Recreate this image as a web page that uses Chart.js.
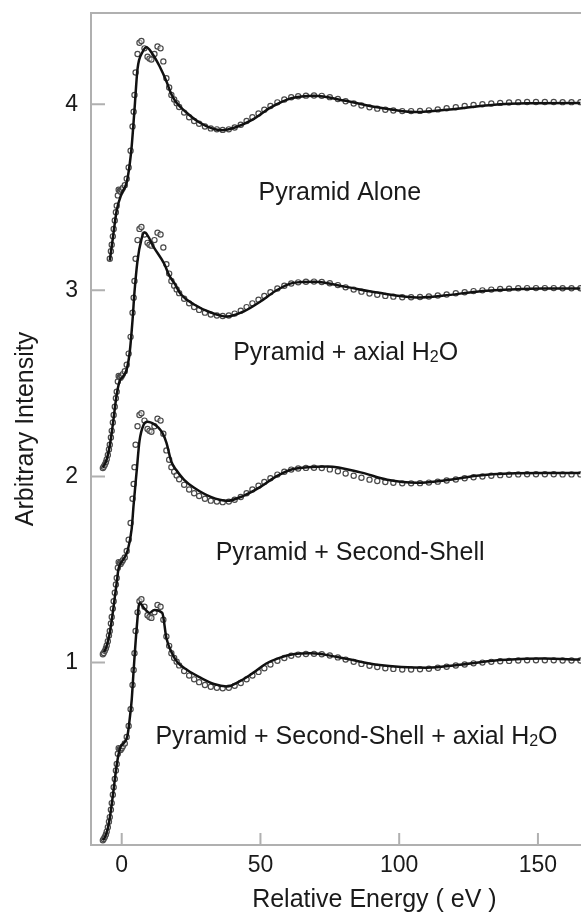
<!DOCTYPE html>
<html>
<head>
<meta charset="utf-8">
<script src="https://cdn.jsdelivr.net/npm/chart.js@4.4.0/dist/chart.umd.min.js"></script>
<style>
  html, body { margin: 0; padding: 0; background: #fff; overflow: hidden; }
  #wrap { width: 581px; height: 921px; overflow: hidden; position: relative; }
  canvas { display: block; }
</style>
</head>
<body>
<div id="wrap"><canvas id="chart-xas" width="663" height="921"></canvas></div>
<script>
// measured spectrum (normalized), same data under every fit
const energy = [-6.8, -6.5, -6.1, -5.7, -5.4, -5.0, -4.6, -4.3, -3.9, -3.6, -3.2, -2.9, -2.5, -2.1, -1.8,
  -1.4, -1.1, -0.7, -0.4, 0.0, 0.4, 1.1, 1.8, 2.5, 3.2,
  3.9, 4.3, 4.6, 5.0, 5.7, 6.4, 7.1, 8.2, 9.3, 10.0,
  10.7, 11.8, 12.9, 14.0, 15.0, 16.1, 17.1, 17.9, 18.9, 19.8,
  20.7, 22.5, 24.3, 26.1, 27.9, 30.0, 32.1, 34.3, 36.4, 38.6,
  40.7, 42.9, 45.0, 47.1, 49.3, 51.4, 53.6, 56.1, 58.6, 61.1,
  63.6, 66.4, 69.3, 72.1, 75.0, 77.9, 80.7, 83.6, 86.4, 89.3,
  92.1, 95.0, 97.9, 101.1, 104.3, 107.5, 110.7, 113.9, 117.1, 120.4,
  123.6, 126.8, 130.0, 133.2, 136.4, 139.6, 142.9, 146.1, 149.3, 152.5,
  155.7, 158.9, 162.1, 165.3];
const measured = [0.045, 0.052, 0.063, 0.077, 0.092, 0.115, 0.145, 0.17, 0.21, 0.245, 0.29, 0.33, 0.375, 0.42, 0.455,
  0.51, 0.54, 0.535, 0.53, 0.54, 0.55, 0.565, 0.60, 0.66, 0.75,
  0.88, 0.96, 1.05, 1.17, 1.27, 1.33, 1.34, 1.30, 1.255, 1.245,
  1.24, 1.27, 1.31, 1.30, 1.23, 1.14, 1.09, 1.05, 1.025, 1.005,
  0.985, 0.955, 0.93, 0.91, 0.895, 0.88, 0.87, 0.865, 0.862, 0.865,
  0.875, 0.89, 0.91, 0.93, 0.95, 0.97, 0.99, 1.01, 1.025, 1.037,
  1.043, 1.046, 1.047, 1.045, 1.038, 1.028, 1.016, 1.004, 0.993, 0.983,
  0.976, 0.97, 0.966, 0.963, 0.963, 0.964, 0.967, 0.972, 0.978, 0.984,
  0.99, 0.996, 1.0, 1.004, 1.007, 1.009, 1.011, 1.012, 1.012, 1.012,
  1.012, 1.011, 1.011, 1.011];

// model fits
const fitAloneE = [-4.3, -3.2, -1.8, 0.0, 1.8, 2.9, 3.6, 4.6, 5.7, 7.5, 8.9, 11.1, 13.6, 16.1, 17.9, 19.6, 23.2,
  27.9, 32.5, 36.1, 41.1, 46.8, 53.9, 61.1, 69.3, 80.7, 92.1, 106.1, 118.2, 132.5, 146.1, 165.3];
const fitAloneY = [0.16, 0.28, 0.43, 0.52, 0.58, 0.68, 0.775, 0.97, 1.19, 1.28, 1.306, 1.27, 1.205, 1.123, 1.053, 1.01, 0.957,
  0.903, 0.87, 0.86, 0.876, 0.914, 0.984, 1.032, 1.046, 1.018, 0.984, 0.958, 0.972, 0.995, 1.005, 1.006];

const fitAxialE = [-6.8, -5.4, -4.3, -3.2, -1.8, -0.7, 0.4, 1.8, 2.9, 3.9, 4.6, 5.7, 7.1, 8.2, 11.8, 15.4, 17.1, 18.9,
  21.4, 26.1, 32.1, 37.9, 43.9, 50.0, 55.7, 61.8, 69.6, 80.4, 92.1, 106.4, 116.1, 127.9, 139.6, 151.8, 165.3];
const fitAxialY = [0.047, 0.092, 0.165, 0.28, 0.44, 0.515, 0.535, 0.575, 0.67, 0.84, 0.99, 1.16, 1.274, 1.311, 1.225, 1.14, 1.08, 1.04,
  0.978, 0.924, 0.881, 0.859, 0.886, 0.94, 0.999, 1.04, 1.046, 1.020, 0.988, 0.962, 0.972, 0.993, 1.004, 1.010, 1.010];

const fitShellE = [-6.4, -5.4, -4.3, -3.2, -2.5, -1.8, -1.2, -0.7, 0.4, 2.1, 3.6, 4.3, 5.4, 6.4, 7.9, 9.3, 11.8, 12.9, 14.6,
  16.1, 17.9, 19.6, 22.5, 26.1, 32.1, 37.9, 43.9, 50.0, 55.7, 61.8, 74.3, 86.1, 95.7, 106.4, 118.2, 127.9, 139.6, 151.8, 165.3];
const fitShellY = [0.055, 0.09, 0.16, 0.27, 0.35, 0.43, 0.50, 0.525, 0.55, 0.60, 0.72, 0.85, 1.03, 1.19, 1.278, 1.294, 1.28, 1.267, 1.235,
  1.182, 1.079, 1.036, 0.982, 0.939, 0.89, 0.869, 0.896, 0.944, 1.0, 1.04, 1.054, 1.022, 0.982, 0.966, 0.982, 1.004, 1.016, 1.018, 1.018];

const fitBothE = [-6.8, -6.1, -5.0, -4.3, -3.2, -1.8, -0.7, 2.1, 2.9, 3.6, 4.3, 5.4, 6.4, 8.2, 10.0, 11.8, 14.6, 16.1, 17.9, 20.0,
  23.6, 28.6, 33.2, 37.9, 42.9, 47.5, 52.1, 57.1, 61.8, 68.2, 80.4, 92.1, 110.0, 121.8, 133.9, 145.7, 151.8, 165.3];
const fitBothY = [0.046, 0.06, 0.11, 0.165, 0.285, 0.45, 0.535, 0.61, 0.70, 0.80, 0.96, 1.186, 1.32, 1.29, 1.267, 1.283, 1.267, 1.132, 1.057, 1.003,
  0.96, 0.917, 0.885, 0.872, 0.903, 0.946, 0.995, 1.027, 1.045, 1.05, 1.022, 0.988, 0.972, 0.988, 1.01, 1.02, 1.022, 1.016];

// panels, top to bottom
const panelNames = ['Pyramid Alone', 'Pyramid + axial H₂O', 'Pyramid + Second-Shell', 'Pyramid + Second-Shell + axial H₂O'];
const panelOffsets = [3, 2, 1, 0];
const panelFirstE = [-4.4, -7, -7, -7];
const labelE = [78.6, 80.7, 82.3, 84.6];
const labelY = [3.488, 2.628, 1.552, 0.562];

const xTicks = [0, 50, 100, 150];
const yTicks = [1, 2, 3, 4];

const FONT = '"Liberation Sans", Arial, Helvetica, sans-serif';
const TEXT = '#1a1a1a';
const AXIS_GREY = '#b0b0b0';

function toPoints(xs, ys, shift, from) {
    const pts = [];
    xs.forEach((x, i) => {
        if (x >= from) pts.push({x: x, y: ys[i] + shift});
    });
    return pts;
}

const fits = [[fitAloneE, fitAloneY], [fitAxialE, fitAxialY], [fitShellE, fitShellY], [fitBothE, fitBothY]];

const datasets = [];
panelNames.forEach((name, i) => {
    datasets.push({
        label: name + ' (fit)',
        data: toPoints(fits[i][0], fits[i][1], panelOffsets[i], -99),
        showLine: true,
        borderColor: '#111',
        borderWidth: 2.5,
        pointRadius: 0,
        cubicInterpolationMode: 'monotone',
        order: 0
    });
    datasets.push({
        label: name,
        data: toPoints(energy, measured, panelOffsets[i], panelFirstE[i]),
        showLine: false,
        pointRadius: 2.6,
        pointBorderWidth: 1.2,
        pointBorderColor: '#4a4a4a',
        pointBackgroundColor: 'rgba(255,255,255,0.5)',
        order: 1
    });
});

// writes "H₂O" with a real lowered, smaller 2
function drawPanelLabel(ctx, text, cx, baseline) {
    const big = '25px ' + FONT;
    const small = '16px ' + FONT;
    const parts = text.split('₂');
    let total = 0;
    parts.forEach((p, i) => {
        ctx.font = big;
        total += ctx.measureText(p).width;
        if (i < parts.length - 1) {
            ctx.font = small;
            total += ctx.measureText('2').width;
        }
    });
    let x = cx - total / 2;
    ctx.textAlign = 'left';
    ctx.textBaseline = 'alphabetic';
    parts.forEach((p, i) => {
        ctx.font = big;
        ctx.fillText(p, x, baseline);
        x += ctx.measureText(p).width;
        if (i < parts.length - 1) {
            ctx.font = small;
            ctx.fillText('2', x, baseline + 2);
            x += ctx.measureText('2').width;
        }
    });
}

const frameAndLabels = {
    id: 'frameAndLabels',
    afterDraw(chart) {
        const {ctx, chartArea, scales: {x, y}} = chart;
        ctx.save();
        ctx.strokeStyle = AXIS_GREY;
        ctx.lineWidth = 2;
        ctx.beginPath();
        // top edge of the frame
        ctx.moveTo(chartArea.left - 1, chartArea.top);
        ctx.lineTo(chartArea.right, chartArea.top);
        // inward tick marks
        x.ticks.forEach(t => {
            const px = x.getPixelForValue(t.value);
            ctx.moveTo(px, chartArea.bottom);
            ctx.lineTo(px, chartArea.bottom - 12);
        });
        y.ticks.forEach(t => {
            const py = y.getPixelForValue(t.value);
            ctx.moveTo(chartArea.left, py);
            ctx.lineTo(chartArea.left + 14, py);
        });
        ctx.stroke();

        ctx.fillStyle = TEXT;
        panelNames.forEach((name, i) => {
            drawPanelLabel(ctx, name, x.getPixelForValue(labelE[i]), y.getPixelForValue(labelY[i]));
        });
        ctx.restore();
    }
};

const chartXas = new Chart(document.getElementById('chart-xas').getContext('2d'), {
    type: 'scatter',
    data: { datasets: datasets },
    plugins: [frameAndLabels],
    options: {
        responsive: false,
        animation: false,
        events: [],
        layout: { padding: { top: 13, right: 0, bottom: 0, left: 0 } },
        plugins: {
            legend: { display: false },
            tooltip: { enabled: false }
        },
        scales: {
            x: {
                type: 'linear',
                min: -11.07,
                max: 193.2,
                afterBuildTicks: s => { s.ticks = xTicks.map(v => ({value: v})); },
                afterFit: s => { s.height = 76; s.paddingLeft = 0; s.paddingRight = 0; },
                grid: { display: false, drawTicks: false },
                border: { display: true, color: AXIS_GREY, width: 2 },
                ticks: { color: TEXT, font: { family: FONT, size: 23 }, padding: 7, maxRotation: 0 },
                title: {
                    display: true,
                    text: 'Relative Energy ( eV )',
                    color: TEXT,
                    font: { family: FONT, size: 25 },
                    padding: { top: 0, bottom: 6 }
                }
            },
            y: {
                type: 'linear',
                min: 0.02,
                max: 4.49,
                afterBuildTicks: s => { s.ticks = yTicks.map(v => ({value: v})); },
                afterFit: s => { s.width = 91; s.paddingTop = 0; s.paddingBottom = 0; },
                grid: { display: false, drawTicks: false },
                border: { display: true, color: AXIS_GREY, width: 2 },
                ticks: { color: TEXT, font: { family: FONT, size: 23 }, padding: 13 },
                title: {
                    display: true,
                    text: 'Arbitrary Intensity',
                    color: TEXT,
                    font: { family: FONT, size: 25 },
                    padding: { top: 11, bottom: 0 }
                }
            }
        }
    }
});
</script>
</body>
</html>
